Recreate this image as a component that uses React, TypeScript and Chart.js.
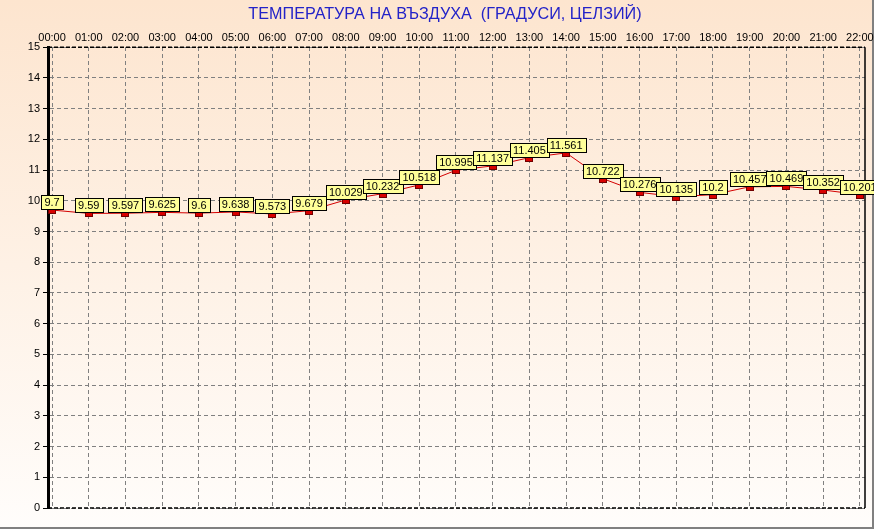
import React, { useEffect, useRef } from "react";
import { Chart, registerables } from "chart.js";

Chart.register(...registerables);

const TITLE = "ТЕМПЕРАТУРА НА ВЪЗДУХА  (ГРАДУСИ, ЦЕЛЗИЙ)";
const hours = [
  "00:00", "01:00", "02:00", "03:00", "04:00", "05:00", "06:00", "07:00",
  "08:00", "09:00", "10:00", "11:00", "12:00", "13:00", "14:00", "15:00",
  "16:00", "17:00", "18:00", "19:00", "20:00", "21:00", "22:00",
];
const temperature = [
  9.7, 9.59, 9.597, 9.625, 9.6, 9.638, 9.573, 9.679, 10.029, 10.232, 10.518,
  10.995, 11.137, 11.405, 11.561, 10.722, 10.276, 10.135, 10.2, 10.457, 10.469,
  10.352, 10.201,
];
const yTicks = [0, 1, 2, 3, 4, 5, 6, 7, 8, 9, 10, 11, 12, 13, 14, 15];

const FONT = "'Liberation Sans', Arial, sans-serif";

const decorPlugin = {
  id: "decor",
  beforeDraw(chart: any) {
    const { ctx, width, height } = chart;
    ctx.save();
    const g = ctx.createLinearGradient(0, 0, 0, height);
    g.addColorStop(0, "#fde5cf");
    g.addColorStop(1, "#fffdfb");
    ctx.fillStyle = g;
    ctx.fillRect(0, 0, width, height);
    ctx.fillStyle = "#808080";
    ctx.fillRect(0, height - 2, width, 2);
    ctx.fillRect(width - 2, 0, 2, height);
    ctx.restore();
  },
  afterDraw(chart: any) {
    const { ctx, chartArea } = chart;
    const { left, right, top, bottom } = chartArea;
    ctx.save();
    // frame
    ctx.strokeStyle = "#000";
    ctx.lineWidth = 1.5;
    ctx.setLineDash([4, 2]);
    ctx.beginPath();
    ctx.moveTo(left, top);
    ctx.lineTo(right, top);
    ctx.moveTo(left, bottom);
    ctx.lineTo(right, bottom);
    ctx.stroke();
    ctx.setLineDash([]);
    ctx.beginPath();
    ctx.moveTo(right, top);
    ctx.lineTo(right, bottom);
    ctx.stroke();

    const meta = chart.getDatasetMeta(0);
    // markers
    meta.data.forEach((pt: any) => {
      const x = Math.round(pt.x);
      const y = Math.round(pt.y);
      ctx.fillStyle = "#d80000";
      ctx.fillRect(x - 4, y - 1, 8, 5);
      ctx.strokeStyle = "#700000";
      ctx.lineWidth = 1;
      ctx.strokeRect(x - 4 + 0.5, y - 1 + 0.5, 7, 4);
    });
    // value boxes
    ctx.font = `11px ${FONT}`;
    ctx.textAlign = "center";
    ctx.textBaseline = "middle";
    meta.data.forEach((pt: any, i: number) => {
      const txt = String(temperature[i]);
      const w = Math.ceil(ctx.measureText(txt).width) + 6;
      const h = 14;
      const x = Math.round(pt.x - w / 2) + 0.5;
      const yb = Math.round(pt.y) - 1;
      const y = yb - h + 0.5;
      ctx.fillStyle = "#ffff99";
      ctx.fillRect(x, y, w, h);
      ctx.strokeStyle = "#000";
      ctx.lineWidth = 1;
      ctx.strokeRect(x, y, w, h);
      ctx.fillStyle = "#000";
      ctx.fillText(txt, pt.x, y + h / 2 + 0.5);
    });
    ctx.restore();
  },
};

export default function App() {
  const ref = useRef<HTMLCanvasElement | null>(null);
  useEffect(() => {
    document.body.style.margin = "0";
    const canvas = ref.current;
    if (!canvas) return;
    const chart = new Chart(canvas, {
      type: "line",
      data: {
        datasets: [
          {
            data: temperature.map((v, i) => ({ x: i, y: v })),
            borderColor: "#d40000",
            borderWidth: 1,
            pointRadius: 0,
            tension: 0,
          },
        ],
      },
      options: {
        animation: false,
        responsive: false,
        maintainAspectRatio: false,
        layout: { padding: { left: 16, right: 0, top: 0, bottom: 21 } },
        plugins: {
          legend: { display: false },
          tooltip: { enabled: false },
          title: {
            display: true,
            text: TITLE,
            color: "#2323c8",
            font: { family: FONT, size: 16.2, weight: "normal", lineHeight: 1.2 },
            padding: { top: 5, bottom: 0 },
          },
        },
        scales: {
          x: {
            type: "linear",
            position: "top",
            min: -0.11,
            max: 22.14,
            afterBuildTicks: (scale: any) => {
              scale.ticks = hours.map((_, i) => ({ value: i }));
            },
            afterFit: (scale: any) => {
              scale.height = 22.8;
              scale.paddingLeft = 0;
              scale.paddingRight = 9;
            },
            ticks: {
              autoSkip: false,
              maxRotation: 0,
              color: "#000",
              padding: 3,
              font: { family: FONT, size: 11 },
              callback: (v: any) => hours[v] ?? "",
            },
            grid: {
              color: "#808080",
              lineWidth: 1,
              drawTicks: false,
            },
            border: { display: false, dash: [4, 3] },
          },
          y: {
            type: "linear",
            min: 0,
            max: 15,
            afterBuildTicks: (scale: any) => {
              scale.ticks = yTicks.map((v) => ({ value: v }));
            },
            afterFit: (scale: any) => {
              scale.width = 32;
            },
            ticks: {
              color: "#000",
              padding: 3,
              font: { family: FONT, size: 11 },
            },
            grid: {
              color: "#808080",
              lineWidth: 1,
              tickLength: 5,
              tickColor: "#000",
              tickBorderDash: [],
            },
            border: { display: true, color: "#000", width: 3, dash: [4, 3] },
          },
        },
      },
      plugins: [decorPlugin],
    } as any);
    return () => chart.destroy();
  }, []);
  return (
    <div style={{ width: 874, height: 529 }}>
      <canvas ref={ref} width={874} height={529} style={{ display: "block" }} />
    </div>
  );
}
